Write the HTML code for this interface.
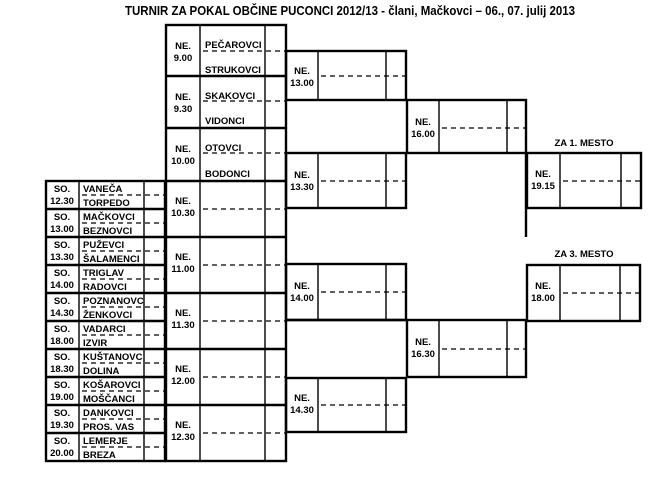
<!DOCTYPE html>
<html><head><meta charset="utf-8"><style>
html,body{margin:0;padding:0;background:#fff;}
svg{display:block;}
text{font-family:"Liberation Sans",Arial,sans-serif;font-weight:bold;fill:#000;}
.t{font-size:9.5px;}
.n{font-size:9.5px;}
.b{fill:none;stroke:#000;stroke-width:2.4;}
.d{stroke:#000;stroke-width:1.4;}
.ds{stroke:#000;stroke-width:1.2;stroke-dasharray:5 4;}
</style></head><body>
<svg width="655" height="491" viewBox="0 0 655 491" xmlns="http://www.w3.org/2000/svg">
<text x="125" y="15" font-size="12.5" textLength="450" lengthAdjust="spacingAndGlyphs">TURNIR ZA POKAL OBČINE PUCONCI 2012/13 - člani, Mačkovci – 06., 07. julij 2013</text>

<!-- Column 1 rows -->
<g>
<rect class="b" x="46" y="181" width="119" height="280"/>
<line class="d" x1="79" y1="181" x2="79" y2="461"/>
<line class="d" x1="144" y1="181" x2="144" y2="461"/>
<g class="b"><line x1="46" y1="209" x2="165" y2="209"/><line x1="46" y1="237" x2="165" y2="237"/><line x1="46" y1="265" x2="165" y2="265"/><line x1="46" y1="293" x2="165" y2="293"/><line x1="46" y1="321" x2="165" y2="321"/><line x1="46" y1="349" x2="165" y2="349"/><line x1="46" y1="377" x2="165" y2="377"/><line x1="46" y1="405" x2="165" y2="405"/><line x1="46" y1="433" x2="165" y2="433"/></g>
<g class="ds"><line x1="82" y1="195" x2="165" y2="195"/><line x1="82" y1="223" x2="165" y2="223"/><line x1="82" y1="251" x2="165" y2="251"/><line x1="82" y1="279" x2="165" y2="279"/><line x1="82" y1="307" x2="165" y2="307"/><line x1="82" y1="335" x2="165" y2="335"/><line x1="82" y1="363" x2="165" y2="363"/><line x1="82" y1="391" x2="165" y2="391"/><line x1="82" y1="419" x2="165" y2="419"/><line x1="82" y1="447" x2="165" y2="447"/></g>
<g class="t" text-anchor="middle">
<text x="62" y="192">SO.</text><text x="62" y="204">12.30</text>
<text x="62" y="220">SO.</text><text x="62" y="232">13.00</text>
<text x="62" y="248">SO.</text><text x="62" y="260">13.30</text>
<text x="62" y="276">SO.</text><text x="62" y="288">14.00</text>
<text x="62" y="304">SO.</text><text x="62" y="316">14.30</text>
<text x="62" y="332">SO.</text><text x="62" y="344">18.00</text>
<text x="62" y="360">SO.</text><text x="62" y="372">18.30</text>
<text x="62" y="388">SO.</text><text x="62" y="400">19.00</text>
<text x="62" y="416">SO.</text><text x="62" y="428">19.30</text>
<text x="62" y="444">SO.</text><text x="62" y="456">20.00</text>
</g>
<g class="n">
<text x="83" y="192">VANEČA</text><text x="83" y="206">TORPEDO</text>
<text x="83" y="220">MAČKOVCI</text><text x="83" y="234">BEZNOVCI</text>
<text x="83" y="248">PUŽEVCI</text><text x="83" y="262">ŠALAMENCI</text>
<text x="83" y="276">TRIGLAV</text><text x="83" y="290">RADOVCI</text>
<text x="83" y="304">POZNANOVC</text><text x="83" y="318">ŽENKOVCI</text>
<text x="83" y="332">VADARCI</text><text x="83" y="346">IZVIR</text>
<text x="83" y="360">KUŠTANOVC</text><text x="83" y="374">DOLINA</text>
<text x="83" y="388">KOŠAROVCI</text><text x="83" y="402">MOŠČANCI</text>
<text x="83" y="416">DANKOVCI</text><text x="83" y="430">PROS. VAS</text>
<text x="83" y="444">LEMERJE</text><text x="83" y="458">BREZA</text>
</g>
</g>

<!-- Column 2 -->
<rect class="b" x="166" y="25" width="120" height="436"/>
<line class="d" x1="200" y1="25" x2="200" y2="461"/>
<line class="d" x1="265" y1="25" x2="265" y2="461"/>
<g class="b"><line x1="166" y1="76" x2="286" y2="76"/><line x1="166" y1="128" x2="286" y2="128"/><line x1="166" y1="181" x2="286" y2="181"/><line x1="166" y1="237" x2="286" y2="237"/><line x1="166" y1="293" x2="286" y2="293"/><line x1="166" y1="349" x2="286" y2="349"/><line x1="166" y1="405" x2="286" y2="405"/></g>
<g class="ds"><line x1="203" y1="51" x2="286" y2="51"/><line x1="203" y1="101" x2="286" y2="101"/><line x1="203" y1="153" x2="286" y2="153"/><line x1="203" y1="209" x2="286" y2="209"/><line x1="203" y1="265" x2="286" y2="265"/><line x1="203" y1="321" x2="286" y2="321"/><line x1="203" y1="377" x2="286" y2="377"/><line x1="203" y1="433" x2="286" y2="433"/></g>
<g class="t" text-anchor="middle">
<text x="183" y="49">NE.</text><text x="183" y="61">9.00</text>
<text x="183" y="100">NE.</text><text x="183" y="112">9.30</text>
<text x="183" y="152">NE.</text><text x="183" y="164">10.00</text>
<text x="183" y="204">NE.</text><text x="183" y="216">10.30</text>
<text x="183" y="260">NE.</text><text x="183" y="272">11.00</text>
<text x="183" y="316">NE.</text><text x="183" y="328">11.30</text>
<text x="183" y="372">NE.</text><text x="183" y="384">12.00</text>
<text x="183" y="428">NE.</text><text x="183" y="440">12.30</text>
</g>
<g class="n">
<text x="205" y="48">PEČAROVCI</text><text x="205" y="73">STRUKOVCI</text>
<text x="205" y="99">SKAKOVCI</text><text x="205" y="124">VIDONCI</text>
<text x="205" y="151">OTOVCI</text><text x="205" y="177">BODONCI</text>
</g>

<!-- Column 3 -->
<g>
<rect class="b" x="286" y="51" width="120" height="49"/>
<rect class="b" x="286" y="153" width="120" height="55"/>
<rect class="b" x="286" y="264" width="120" height="56"/>
<rect class="b" x="286" y="378" width="120" height="54"/>
<line class="b" x1="286" y1="320" x2="407" y2="320"/>
<g class="d">
<line x1="318" y1="51" x2="318" y2="100"/><line x1="386" y1="51" x2="386" y2="100"/>
<line x1="318" y1="153" x2="318" y2="208"/><line x1="386" y1="153" x2="386" y2="208"/>
<line x1="318" y1="264" x2="318" y2="320"/><line x1="386" y1="264" x2="386" y2="320"/>
<line x1="318" y1="378" x2="318" y2="432"/><line x1="386" y1="378" x2="386" y2="432"/>
</g>
<g class="ds"><line x1="321" y1="76" x2="406" y2="76"/><line x1="321" y1="181" x2="406" y2="181"/><line x1="321" y1="292" x2="406" y2="292"/><line x1="321" y1="405" x2="406" y2="405"/></g>
<g class="t" text-anchor="middle">
<text x="302" y="74">NE.</text><text x="302" y="86">13.00</text>
<text x="302" y="178">NE.</text><text x="302" y="190">13.30</text>
<text x="302" y="289">NE.</text><text x="302" y="301">14.00</text>
<text x="302" y="401">NE.</text><text x="302" y="413">14.30</text>
</g>
</g>

<!-- Column 4 -->
<g>
<rect class="b" x="407" y="100" width="119" height="53"/>
<rect class="b" x="407" y="320" width="119" height="57"/>
<line class="b" x1="526" y1="153" x2="526" y2="237"/>
<g class="d">
<line x1="439" y1="100" x2="439" y2="153"/><line x1="507" y1="100" x2="507" y2="153"/>
<line x1="439" y1="320" x2="439" y2="377"/><line x1="507" y1="320" x2="507" y2="377"/>
</g>
<g class="ds"><line x1="442" y1="128" x2="526" y2="128"/><line x1="442" y1="349" x2="526" y2="349"/></g>
<g class="t" text-anchor="middle">
<text x="423" y="125">NE.</text><text x="423" y="137">16.00</text>
<text x="423" y="345">NE.</text><text x="423" y="357">16.30</text>
</g>
</g>

<!-- Column 5 -->
<g>
<rect class="b" x="527" y="153" width="114" height="55"/>
<rect class="b" x="527" y="265" width="113" height="56"/>
<g class="d">
<line x1="560" y1="153" x2="560" y2="208"/><line x1="621" y1="153" x2="621" y2="208"/>
<line x1="560" y1="265" x2="560" y2="321"/><line x1="620" y1="265" x2="620" y2="321"/>
</g>
<g class="ds"><line x1="563" y1="181" x2="641" y2="181"/><line x1="563" y1="293" x2="640" y2="293"/></g>
<g class="t" text-anchor="middle">
<text x="543" y="177">NE.</text><text x="543" y="189">19.15</text>
<text x="543" y="289">NE.</text><text x="543" y="301">18.00</text>
<text x="584" y="146">ZA 1. MESTO</text>
<text x="584" y="257">ZA 3. MESTO</text>
</g>
</g>
</svg>
</body></html>
